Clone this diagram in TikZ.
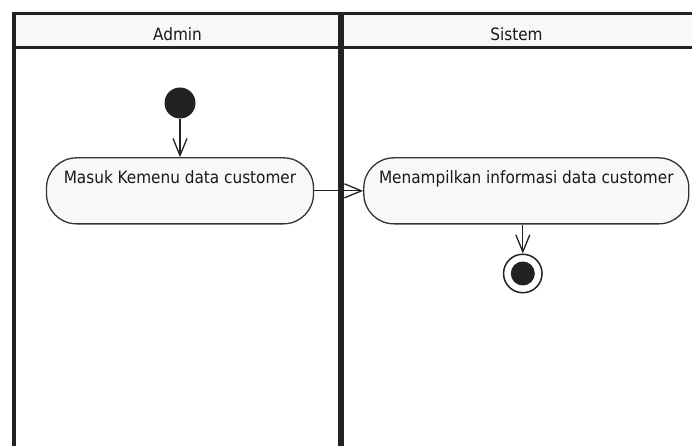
\documentclass[tikz,border=0pt]{standalone}
\usepackage{fontspec}
\setmainfont{DejaVu Sans Condensed}
\usetikzlibrary{arrows.meta,positioning}
\definecolor{linegray}{HTML}{222222}
\definecolor{boxfill}{HTML}{F8F8F8}
\begin{document}
\begin{tikzpicture}[
            x=1pt, y=-1pt,
            every node/.style={font=\fontsize{17}{20}\selectfont, text=black!90},
            lanetitle/.style={anchor=base},
            action/.style={draw=black!80, fill=boxfill, line width=1.3pt,
                rounded corners=30pt, inner sep=0pt, text height=26pt, text depth=40pt},
            startnode/.style={circle, fill=linegray, minimum size=31pt, inner sep=0pt},
            endnode/.style={circle, draw=linegray, fill=white, line width=1.5pt,
                minimum size=38.5pt, inner sep=0pt,
                path picture={\fill[linegray] (path picture bounding box.center) circle (12pt);}},
            flow/.style={draw=linegray, line width=1.3pt, -{Straight Barb[length=17pt,width=14pt]}}
        ]
            \useasboundingbox (0,0) rectangle (692,446);
            \fill[boxfill] (14,13.5) rectangle (692,47.5);
            \draw[linegray, line width=3.5pt] (14,446) -- (14,13.5) -- (692,13.5);
            \draw[linegray, line width=3pt] (14,47.5) -- (692,47.5);
            \draw[linegray, line width=6pt] (341,13.5) -- (341,446);
            \node[lanetitle] (admin) at (177.5,40.5) {Admin};
            \node[lanetitle] (sistem) at (516.5,40.5) {Sistem};

            \node[startnode] (init) at (180,103) {};
            \node[action, minimum width=267pt, below=38.5pt of init] (masuk) {Masuk Kemenu data customer};
            \node[action, minimum width=325pt, right=49pt of masuk] (tampil) {Menampilkan informasi data customer};
            \node[endnode, below=29pt of tampil, xshift=-3.5pt] (final) {};

            \draw[flow] (init) -- (init |- masuk.north);
            \draw[flow] (masuk) -- (tampil);
            \draw[flow] (final |- tampil.south) -- (final);
        \end{tikzpicture}
\end{document}
